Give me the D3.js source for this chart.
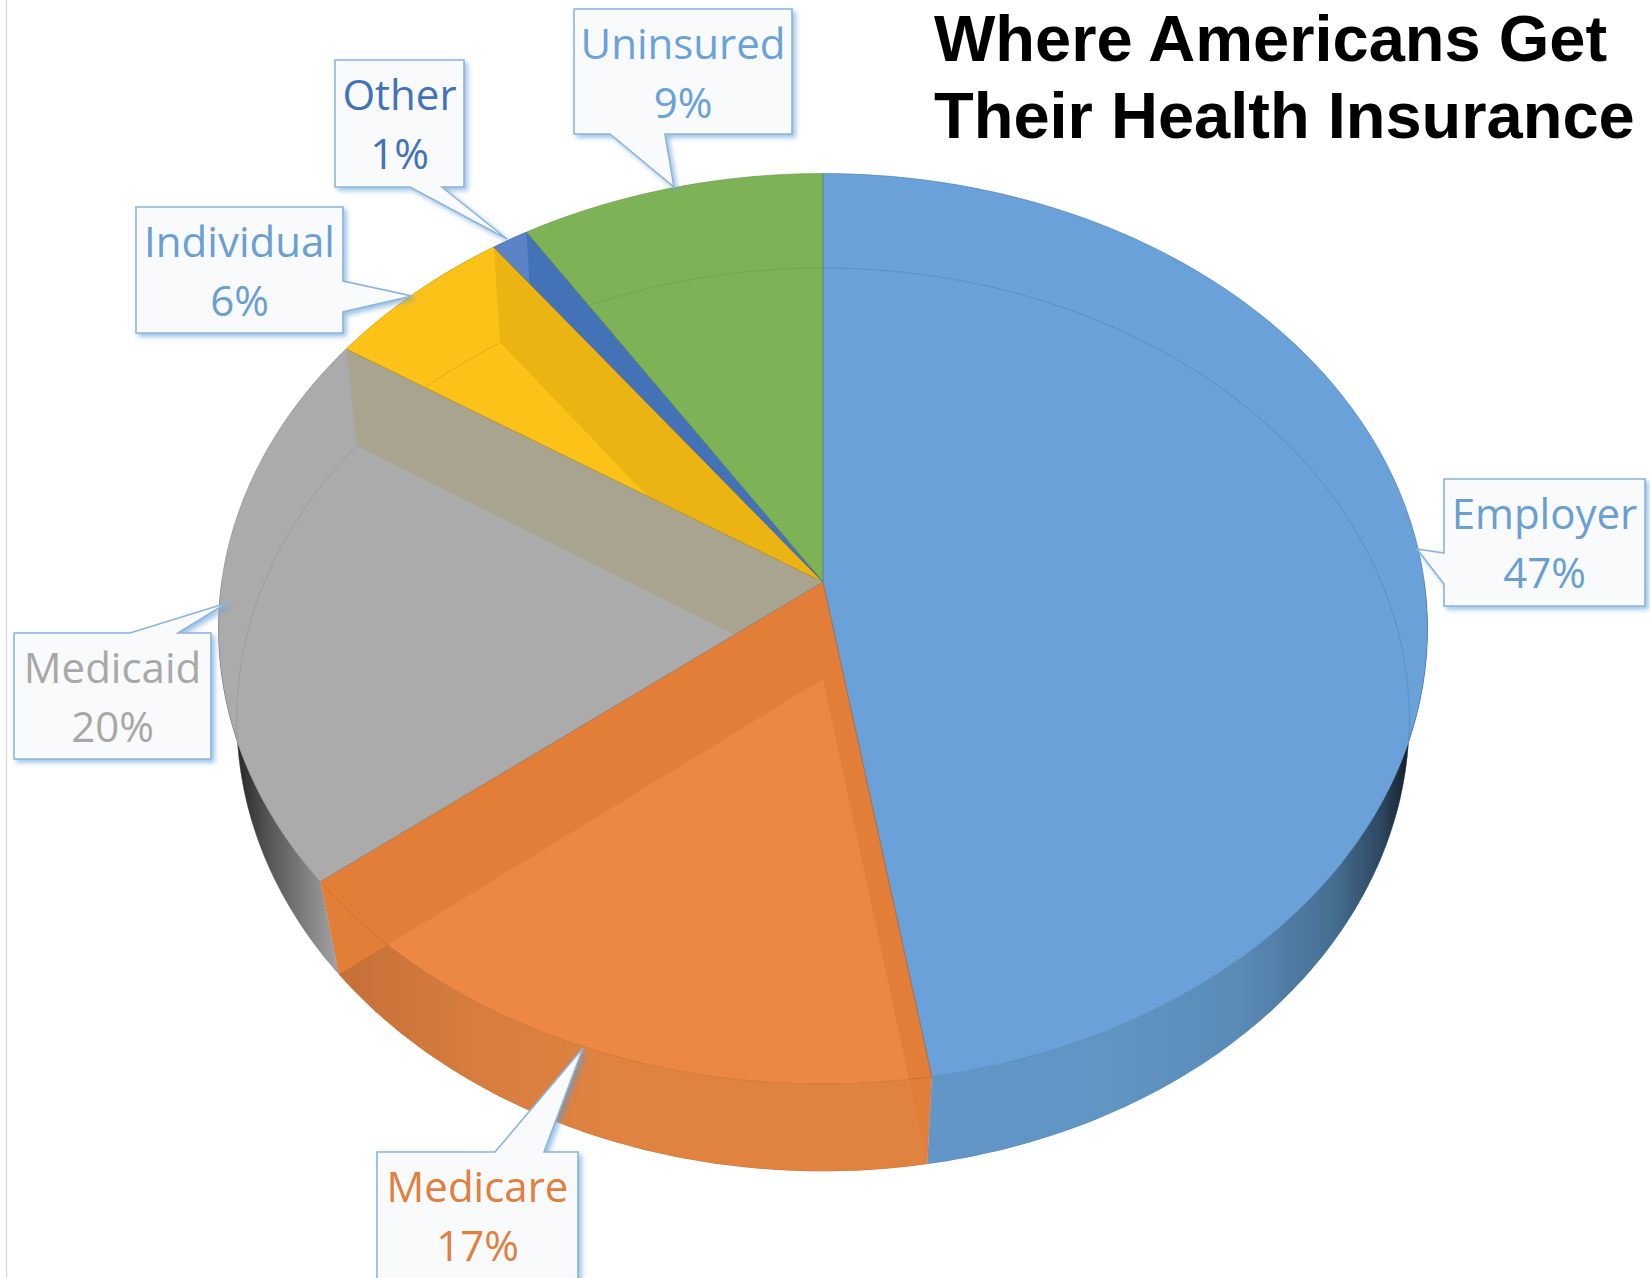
<!DOCTYPE html>
<html>
<head>
<meta charset="utf-8">
<script src="https://cdnjs.cloudflare.com/ajax/libs/d3/7.8.5/d3.min.js"></script>
<style>
  html, body { margin: 0; padding: 0; background: #fff; overflow: hidden; }
  svg { display: block; }
  .title { font-family: "Liberation Sans", Arial, sans-serif; font-weight: bold; font-size: 65px; fill: #000; }
  .callout text { font-family: "Open Sans", "Noto Sans", sans-serif; font-size: 42px; text-anchor: middle; }
</style>
</head>
<body>
<div id="chart"></div>
<script>
  // Chart data, shares estimated from the slice edges (labels round them)
  var categories = ["Employer", "Medicare", "Medicaid", "Individual", "Other", "Uninsured"];
  var shares = [47.4, 16.9, 19.9, 5.7, 1.1, 9.0];
  var titleLines = ["Where Americans Get", "Their Health Insurance"];

  var width = 1650, height = 1278;

  var faceColors = ["#6AA1D8", "#ED8844", "#ABABAB", "#FDC218", "#5B83C8", "#7EB257"];
  var wallColors = ["#5F94C5", "#E27E38", "#A9A48F", "#EBB412", "#4472B6", "#7EB257"];
  var edgeColors = ["#4A82B8", "#C8682A", "#8F8F8F", "#C99A10", "#37609F", "#6A9A48"];
  var labelColors = ["#6A9FD0", "#E07F3E", "#A8A8A8", "#6A9FD0", "#4472B8", "#6AA1D8"];

  // Perspective of the pie's two discs: the top face and the base
  var topDisc = {cx: 823, cy: 582, a: 601.3, b: 450.4, p: 0.1028};
  var baseDisc = {cx: 823, cy: 679, a: 584, b: 448, p: 0.09};

  // Callout boxes, placed by hand like the original
  var callouts = [
    {x0: 1444, y0: 479, x1: 1645, y1: 606, side: "left", from: 553, to: 584, tip: [1417, 549]},
    {x0: 377, y0: 1152, x1: 578, y1: 1290, side: "top", from: 495, to: 544, tip: [583, 1048]},
    {x0: 14, y0: 633, x1: 211, y1: 759, side: "top", from: 130, to: 178, tip: [227, 603]},
    {x0: 136, y0: 207, x1: 343, y1: 333, side: "right", from: 281, to: 312, tip: [412, 296]},
    {x0: 335, y0: 60, x1: 464, y1: 187, side: "bottom", from: 410, to: 442, tip: [507, 239]},
    {x0: 574, y0: 9, x1: 792, y1: 134, side: "bottom", from: 610, to: 665, tip: [674, 187]}
  ];

  var svg = d3.select("#chart").append("svg")
    .attr("width", width)
    .attr("height", height);

  var defs = svg.append("defs");

  // Where a pie angle lands on a disc
  function project(disc, angle) {
    var w = 1 + disc.p * Math.cos(angle);
    return [disc.cx + disc.a * Math.sin(angle) / w, disc.cy - disc.b * Math.cos(angle) / w];
  }

  function rim(disc, a0, a1) {
    var n = Math.max(2, Math.ceil((a1 - a0) * 60));
    return d3.range(n + 1).map(function(i) { return project(disc, a0 + (a1 - a0) * i / n); });
  }

  var line = d3.line();
  function closed(points) { return line(points) + "Z"; }

  var pie = d3.pie().sort(null).value(function(d) { return d; });
  var slices = pie(shares);

  function facePath(d) {
    return closed([[topDisc.cx, topDisc.cy]].concat(rim(topDisc, d.startAngle, d.endAngle)));
  }

  // Outer wall only exists on the near half of the pie
  function sidePath(d) {
    var a0 = Math.max(d.startAngle, Math.PI / 2), a1 = Math.min(d.endAngle, Math.PI * 1.5);
    if (a1 <= a0) return null;
    return closed(rim(topDisc, a0, a1).concat(rim(baseDisc, a0, a1).reverse()));
  }

  function wallPath(angle) {
    return closed([[topDisc.cx, topDisc.cy], project(topDisc, angle), project(baseDisc, angle), [baseDisc.cx, baseDisc.cy]]);
  }

  // Side wall shading runs across the picture
  function sideGradient(id, x1, x2, stops) {
    var g = defs.append("linearGradient")
      .attr("id", id)
      .attr("gradientUnits", "userSpaceOnUse")
      .attr("x1", x1).attr("x2", x2).attr("y1", 0).attr("y2", 0);
    stops.forEach(function(s) {
      g.append("stop").attr("offset", s[0]).attr("stop-color", s[1]);
    });
  }
  sideGradient("side0", 930, 1405, [[0, "#6296C8"], [0.4, "#6094C3"], [0.65, "#5A8BB7"], [0.85, "#466E92"], [0.95, "#2E4760"], [1, "#18242F"]]);
  sideGradient("side1", 330, 900, [[0, "#C46F38"], [0.25, "#D67C3E"], [0.5, "#E08341"], [1, "#E08341"]]);
  sideGradient("side2", 232, 335, [[0, "#202020"], [0.35, "#555555"], [1, "#A0A0A0"]]);

  var shadow = defs.append("filter").attr("id", "boxShadow")
    .attr("x", "-20%").attr("y", "-20%").attr("width", "140%").attr("height", "140%");
  shadow.append("feDropShadow")
    .attr("dx", 3).attr("dy", 3).attr("stdDeviation", 2.5)
    .attr("flood-color", "#5B9BD5").attr("flood-opacity", 0.6);

  // Faint line down the left of the page
  svg.append("line")
    .attr("x1", 6.5).attr("x2", 6.5).attr("y1", 0).attr("y2", height)
    .attr("stroke", "#DDDDDD").attr("stroke-width", 1.5);

  // Side walls first, the top faces sit over them
  svg.append("g").selectAll("path")
    .data(slices.filter(function(d) { return sidePath(d); }))
    .enter().append("path")
      .attr("d", sidePath)
      .attr("fill", function(d) { return "url(#side" + d.index + ")"; });

  slices.forEach(function(d) {
    var i = d.index;
    var clip = defs.append("clipPath").attr("id", "clip" + i);
    clip.append("path").attr("d", facePath(d));
    if (sidePath(d)) clip.append("path").attr("d", sidePath(d));

    svg.append("path")
      .attr("d", facePath(d))
      .attr("fill", faceColors[i]);

    var inside = svg.append("g").attr("clip-path", "url(#clip" + i + ")");

    // The pie is see-through, so the cut walls show inside the slice
    [d.startAngle, d.endAngle].forEach(function(angle) {
      inside.append("path")
        .attr("d", wallPath(angle))
        .attr("fill", wallColors[i]);
    });

    // Base rim seen through the top face
    inside.append("path")
      .attr("d", line(rim(baseDisc, d.startAngle, d.endAngle)))
      .attr("fill", "none")
      .attr("stroke", edgeColors[i])
      .attr("stroke-opacity", 0.55)
      .attr("stroke-width", 1);
  });

  // Slice outlines on top
  svg.append("g").selectAll("path")
    .data(slices)
    .enter().append("path")
      .attr("d", facePath)
      .attr("fill", "none")
      .attr("stroke", function(d) { return edgeColors[d.index]; })
      .attr("stroke-opacity", 0.7)
      .attr("stroke-width", 1);

  // Callout outline with its pointer cut into one side
  function calloutPath(c) {
    var pts = [[c.x0, c.y0]];
    if (c.side == "top") pts.push([c.from, c.y0], c.tip, [c.to, c.y0]);
    pts.push([c.x1, c.y0]);
    if (c.side == "right") pts.push([c.x1, c.from], c.tip, [c.x1, c.to]);
    pts.push([c.x1, c.y1]);
    if (c.side == "bottom") pts.push([c.to, c.y1], c.tip, [c.from, c.y1]);
    pts.push([c.x0, c.y1]);
    if (c.side == "left") pts.push([c.x0, c.to], c.tip, [c.x0, c.from]);
    return closed(pts);
  }

  var callout = svg.append("g").selectAll("g")
    .data(slices)
    .enter().append("g")
      .attr("class", "callout");

  callout.append("path")
    .attr("d", function(d) { return calloutPath(callouts[d.index]); })
    .attr("fill", "#F8FAFC")
    .attr("stroke", "#8DB4DA")
    .attr("stroke-width", 1.6)
    .attr("filter", "url(#boxShadow)");

  callout.append("text")
    .attr("x", function(d) { var c = callouts[d.index]; return (c.x0 + c.x1) / 2; })
    .attr("y", function(d) { return callouts[d.index].y0 + 50; })
    .attr("fill", function(d) { return labelColors[d.index]; })
    .text(function(d) { return categories[d.index]; });

  callout.append("text")
    .attr("x", function(d) { var c = callouts[d.index]; return (c.x0 + c.x1) / 2; })
    .attr("y", function(d) { return callouts[d.index].y0 + 109; })
    .attr("fill", function(d) { return labelColors[d.index]; })
    .text(function(d) { return d3.format(".0f")(d.value) + "%"; });

  // Title
  svg.selectAll(".title")
    .data(titleLines)
    .enter().append("text")
      .attr("class", "title")
      .attr("x", 934)
      .attr("y", function(d, i) { return 61 + i * 77; })
      .text(function(d) { return d; });
</script>
</body>
</html>
